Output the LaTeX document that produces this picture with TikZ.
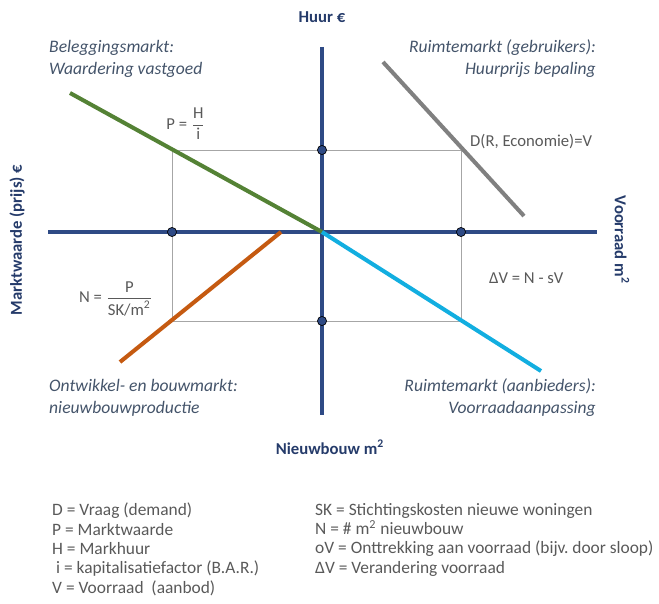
\documentclass[tikz,border=0pt]{standalone}
\usepackage{fontspec}
\setmainfont{Carlito}
\usepackage{amsmath}
\usetikzlibrary{calc}
\frenchspacing
\definecolor{axiscol}{HTML}{2E4A85}
\definecolor{labcol}{HTML}{44546A}
\definecolor{txtcol}{HTML}{595959}
\definecolor{greencol}{HTML}{548235}
\definecolor{orangecol}{HTML}{C55A11}
\definecolor{cyancol}{HTML}{12AEE0}
\definecolor{greycol}{HTML}{808080}

\begin{document}
\begin{tikzpicture}[
		x=0.02cm, y=-0.02cm,
		axis/.style={axiscol, line width=2pt},
		dot/.style={fill=axiscol, radius=2.6pt},
		box/.style={gray!70, line width=0.5pt},
		curve/.style={line width=2.3pt},
		axlabel/.style={font=\bfseries\fontsize{9.5}{11}\selectfont, text=axiscol!80!black},
		market/.style={font=\itshape\fontsize{10}{12.5}\selectfont, text=labcol},
		formula/.style={font=\fontsize{9.5}{11}\selectfont, text=txtcol},
		legend/.style={font=\fontsize{9.9}{11}\selectfont, text=txtcol, align=left, anchor=north west},
	]
	\useasboundingbox (0,0) rectangle (659,604);
	% axes
	\coordinate (O) at (322,232);
	\coordinate (top) at (322,47);
	\coordinate (bottom) at (322,415);
	\coordinate (left) at (48,232);
	\coordinate (right) at (597,232);
	% corners of the equilibrium box
	\coordinate (hq) at (322,150);
	\coordinate (pq) at (172,232);
	\coordinate (vq) at (461,232);
	\coordinate (nq) at (322,321);
	\coordinate (A) at (172,150);
	\coordinate (B) at (461,150);
	\coordinate (C) at (461,321);
	\coordinate (D) at (172,321);
	\draw[box] (A) -- (B) -- (C) -- (D) -- (A);
	\draw[axis] (top) -- (bottom);
	\draw[axis] (left) -- (right);
	% the four curves
	\coordinate (g1) at (70,93);
	\coordinate (r1) at (383,62);
	\coordinate (r2) at (524,216);
	\coordinate (o1) at (281,232);
	\coordinate (o2) at (120,362);
	\coordinate (c2) at (541,371);
	\draw[curve, greencol] (g1) -- (O);
	\draw[curve, greycol] (r1) -- (r2);
	\draw[curve, orangecol] (o1) -- (o2);
	\draw[curve, cyancol] (O) -- (c2);
	\draw[dot] (hq) circle;
	\draw[dot] (pq) circle;
	\draw[dot] (vq) circle;
	\draw[dot] (nq) circle;
	% axis labels
	\node[axlabel] (huur) at (322,17) {Huur €};
	\node[axlabel] (nieuw) at (330,447) {Nieuwbouw m\textsuperscript{2}};
	\node[axlabel, rotate=90] (mw) at (17,240) {Marktwaarde (prijs) €};
	\node[axlabel, rotate=-90] (vr) at (622,240) {Voorraad m\textsuperscript{2}};
	% quadrant labels
	\node[market, anchor=west, align=left] (bel) at (43,59) {Beleggingsmarkt:\\Waardering vastgoed};
	\node[market, anchor=east, align=right] (gebr) at (602,59) {Ruimtemarkt (gebruikers):\\Huurprijs bepaling};
	\node[market, anchor=west, align=left] (ontw) at (43,398) {Ontwikkel- en bouwmarkt:\\nieuwbouwproductie};
	\node[market, anchor=east, align=right] (aanb) at (602,398) {Ruimtemarkt (aanbieders):\\Voorraadaanpassing};
	% formulas
	\node[formula] (fP) at (186,124) {P = $\dfrac{\text{H}}{\text{i}}$};
	\node[formula, anchor=west] (fD) at (464,142) {D(R, Economie)=V};
	\node[formula, anchor=west] (fV) at (483,278) {ΔV = N - sV};
	\node[formula] (fN) at (116,299) {N = $\dfrac{\text{P}}{\text{SK/m\textsuperscript{2}}}$};
	% legend
	\node[legend] (legl) at (46,497) {D = Vraag (demand)\\P = Marktwaarde\\H = Markhuur\\\ i = kapitalisatiefactor (B.A.R.)\\V = Voorraad\ \ (aanbod)};
	\node[legend] (legr) at (309,497) {SK = Stichtingskosten nieuwe woningen\\N = \# m\textsuperscript{2} nieuwbouw\\oV = Onttrekking aan voorraad (bijv. door sloop)\\ΔV = Verandering voorraad};
\end{tikzpicture}
\end{document}
